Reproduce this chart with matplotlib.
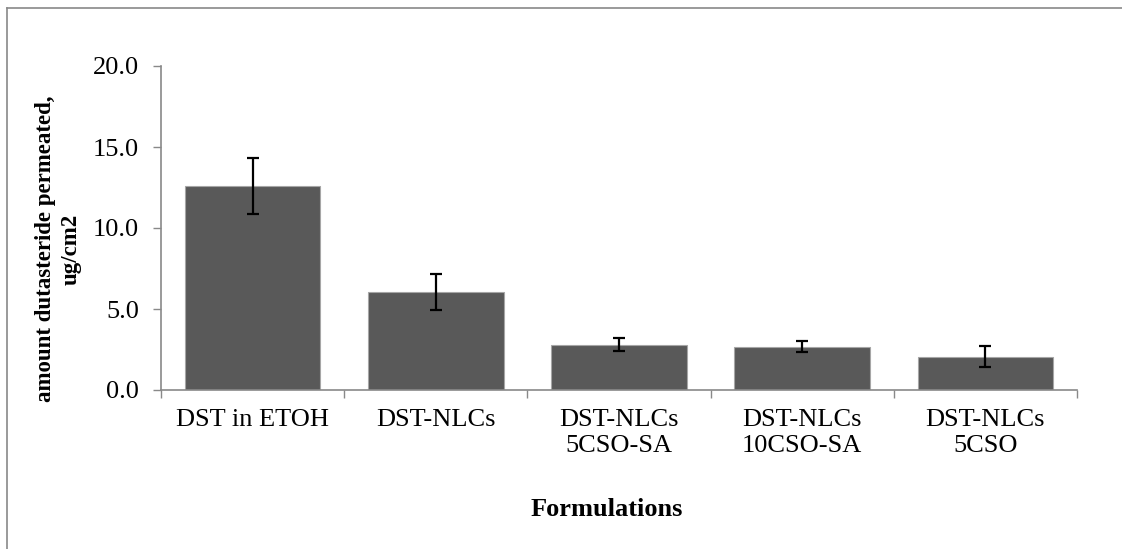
import numpy as np
import matplotlib
matplotlib.use("Agg")
import matplotlib.pyplot as plt
from matplotlib.lines import Line2D

# Datos
formulations = ["DST in ETOH", "DST-NLCs", "DST-NLCs\n5CSO-SA", "DST-NLCs\n10CSO-SA", "DST-NLCs\n5CSO"]
amount = [12.6, 6.05, 2.78, 2.68, 2.05]
errors = [1.72, 1.1, 0.4, 0.35, 0.66]
y_ticks = [0.0, 5.0, 10.0, 15.0, 20.0]

plt.rcParams['font.family'] = ['Liberation Serif', 'DejaVu Serif']

fig = plt.figure(figsize=(11.22, 5.49), dpi=100)
ax = fig.add_axes([161 / 1122, 1 - 390 / 549, (1077 - 161) / 1122, (390 - 66) / 549])

x = np.arange(len(formulations))
ax.bar(x, amount, width=0.74, color='#595959', edgecolor='#a6a6a6', linewidth=0.8, zorder=2)
ax.errorbar(x, amount, yerr=errors, fmt='none', ecolor='black', elinewidth=1.6,
            capsize=4.5, capthick=1.6, zorder=3)

ax.set_xlim(-0.5, len(formulations) - 0.5)
ax.set_ylim(0, 20)
ax.set_yticks(y_ticks)
ax.set_yticklabels(["%.1f" % v for v in y_ticks], fontsize=19)

# marcas del eje x entre categorias (estilo Excel)
ax.set_xticks(x)
ax.set_xticklabels(formulations, fontsize=19, linespacing=1.2)
ax.set_xticks(np.arange(-0.5, len(formulations)), minor=True)
ax.tick_params(axis='x', which='major', length=0, pad=14)
ax.tick_params(axis='x', which='minor', length=6, width=1, color='#898989')
ax.tick_params(axis='y', length=6, width=1, color='#898989', pad=10)

for s in ['top', 'right']:
    ax.spines[s].set_visible(False)
for s in ['left', 'bottom']:
    ax.spines[s].set_color('#898989')
    ax.spines[s].set_linewidth(1.2)

fig.text(58 / 1122, 1 - 249 / 549, "amount dutasteride permeated,\nug/cm2", rotation=90,
         ha='center', va='center', fontsize=16.5, fontweight='bold', linespacing=1.3,
         multialignment='center')
fig.text(607 / 1122, 1 - 509 / 549, "Formulations", ha='center', va='center',
         fontsize=19, fontweight='bold')

# marco exterior del grafico
fig.add_artist(Line2D([7 / 1122, 7 / 1122], [0, 1 - 8 / 549], transform=fig.transFigure,
                      color='#898989', linewidth=1.2))
fig.add_artist(Line2D([7 / 1122, 1], [1 - 8 / 549, 1 - 8 / 549], transform=fig.transFigure,
                      color='#898989', linewidth=1.2))

fig.savefig("out.png", dpi=100)
